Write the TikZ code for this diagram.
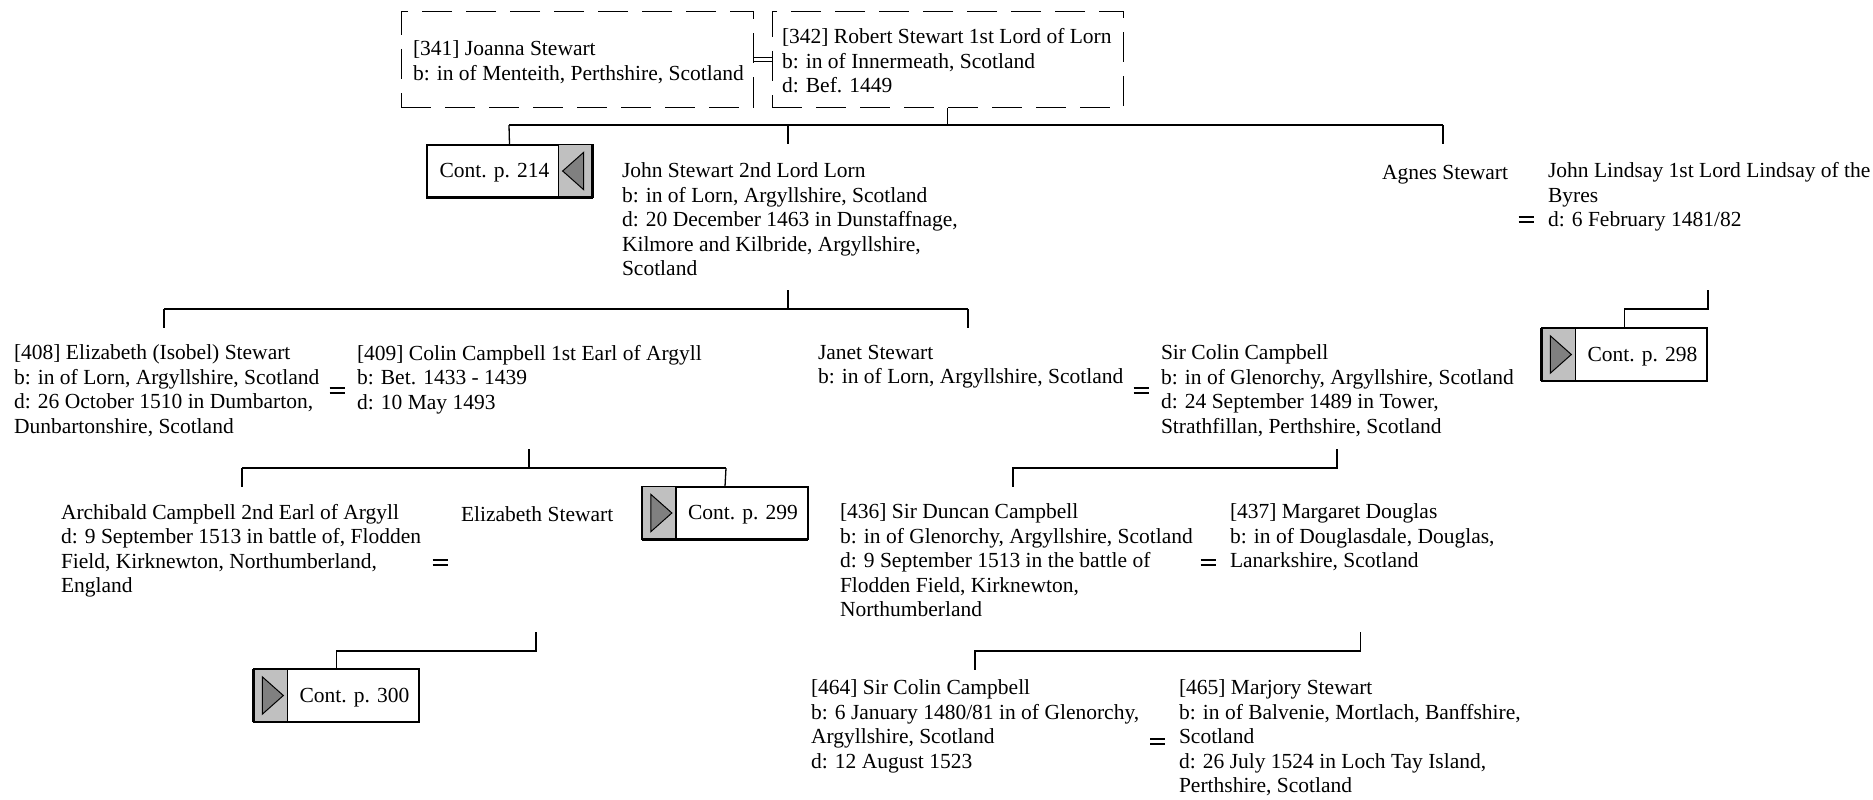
\documentclass[tikz,border=0pt]{standalone}
\usepackage{fontspec}
\setmainfont{Liberation Serif}
\definecolor{panelgray}{HTML}{C0C0C0}
\definecolor{trigray}{HTML}{808080}
\tikzset{
 person/.style={anchor=north west, inner sep=0pt, outer sep=0pt, align=left,
   font=\fontsize{21.5}{24.5}\selectfont, execute at begin node={\rule{0pt}{17pt}}},
 dbox/.style={draw, line width=1pt, dash pattern=on 30pt off 14pt, inner sep=0pt},
 link/.style={line width=1.3pt},
 contbox/.style={draw, fill=white, line width=1.3pt, minimum width=165pt, minimum height=52pt, inner sep=0pt},
 conttext/.style={inner sep=0pt, font=\fontsize{21.5}{24.5}\selectfont},
 marr/.style={line width=1.2pt},
}
\newcommand\person[4]{\node[person] (#1) at (#2,{#3-14}) {#4};}
\newcommand\marry[3]{\coordinate (#1) at (#2,{#3+2.5});
  \draw[marr] ([xshift=-7.5pt,yshift=-2.5pt]#1) -- ++(15pt,0pt)
              ([xshift=-7.5pt,yshift=2.5pt]#1) -- ++(15pt,0pt);}
\newcommand\contL[4]{%
 \node[contbox] (#1) at (#2,#3) {};
 \fill[panelgray] (#1.north west) rectangle ([xshift=34pt]#1.south west);
 \draw[line width=1.3pt] ([xshift=34pt]#1.north west) -- ([xshift=34pt]#1.south west);
 \filldraw[fill=trigray, line width=1pt] ([xshift=9pt,yshift=-8pt]#1.north west) -- ([xshift=30pt]#1.west) -- ([xshift=9pt,yshift=8pt]#1.south west) -- cycle;
 \draw[line width=1.3pt] (#1.north west) rectangle (#1.south east);
 \draw[line width=2.6pt] (#1.south west) -- (#1.south east);
 \draw[line width=2.6pt] (#1.south west) -- (#1.north west);
 \node[conttext] (#1t) at ([xshift=18pt,yshift=-2pt]#1.center) {#4};}
\newcommand\contR[4]{%
 \node[contbox] (#1) at (#2,#3) {};
 \fill[panelgray] (#1.north east) rectangle ([xshift=-34pt]#1.south east);
 \draw[line width=1.3pt] ([xshift=-34pt]#1.north east) -- ([xshift=-34pt]#1.south east);
 \filldraw[fill=trigray, line width=1pt] ([xshift=-9pt,yshift=-8pt]#1.north east) -- ([xshift=-30pt]#1.east) -- ([xshift=-9pt,yshift=8pt]#1.south east) -- cycle;
 \draw[line width=1.3pt] (#1.north west) rectangle (#1.south east);
 \draw[line width=2.6pt] (#1.south west) -- (#1.south east);
 \draw[line width=2.6pt] (#1.south east) -- (#1.north east);
 \node[conttext] (#1t) at ([xshift=-15pt,yshift=-2pt]#1.center) {#4};}
\begin{document}
\begin{tikzpicture}[x=1pt,y=-1pt]
\useasboundingbox (0,0) rectangle (1873,800);
\fill[white] (0,0) rectangle (1873,800);

% top couple
\node[dbox, minimum width=352pt, minimum height=95pt] (b341) at (577,59.5) {};
\node[dbox, minimum width=351pt, minimum height=95pt] (b342) at (947.5,59.5) {};
\person{p341}{413}{54.8}{[341] Joanna Stewart\\b: in of Menteith, Perthshire, Scotland}
\person{p342}{782}{42.7}{[342] Robert Stewart 1st Lord of Lorn\\b: in of Innermeath, Scotland\\d: Bef. 1449}
\draw[marr] ([yshift=2pt]b341.east) -- ([yshift=2pt]b342.west)
            ([yshift=-2pt]b341.east) -- ([yshift=-2pt]b342.west);

% generation 2
\contR{c214}{509.5}{171}{Cont. p. 214}
\person{pjohn}{622}{176.6}{John Stewart 2nd Lord Lorn\\b: in of Lorn, Argyllshire, Scotland\\d: 20 December 1463 in Dunstaffnage,\\Kilmore and Kilbride, Argyllshire,\\Scotland}
\person{pagnes}{1382}{176.6}{Agnes Stewart}
\person{plindsay}{1548}{176.6}{John Lindsay 1st Lord Lindsay of the\\Byres\\d: 6 February 1481/82}
\marry{mlind}{1526}{217}
\coordinate (h1L) at (509,125);
\coordinate (h1M) at (788,125);
\coordinate (h1R) at (1443,125);
\coordinate (h1C) at (947.5,125);
\coordinate (johnTop) at (788,144);
\coordinate (agnesTop) at (1443,144);
\draw[link] (b342.south) -- (h1C);
\draw[link] (h1L) -- (h1R);
\draw[link] (h1L) -- (c214.north);
\draw[link] (h1M) -- (johnTop);
\draw[link] (h1R) -- (agnesTop);

% Lindsay continuation
\contL{c298}{1624.5}{354.5}{Cont. p. 298}
\coordinate (lindA) at (1708,290);
\coordinate (lindB) at (1708,309);
\draw[link] (lindA) -- (lindB) -| (c298.north);

% generation 3
\coordinate (jA) at (788,290);
\coordinate (jC) at (788,309);
\coordinate (jL) at (164,309);
\coordinate (jR) at (968,309);
\coordinate (elizTop) at (164,328);
\coordinate (janetTop) at (968,328);
\draw[link] (jA) -- (jC);
\draw[link] (jL) -- (jR);
\draw[link] (jL) -- (elizTop);
\draw[link] (jR) -- (janetTop);

\person{p408}{14}{359}{[408] Elizabeth (Isobel) Stewart\\b: in of Lorn, Argyllshire, Scotland\\d: 26 October 1510 in Dumbarton,\\Dunbartonshire, Scotland}
\marry{m408}{337}{388}
\person{p409}{357}{359}{[409] Colin Campbell 1st Earl of Argyll\\b: Bet. 1433 - 1439\\d: 10 May 1493}
\person{pjanet}{818}{359}{Janet Stewart\\b: in of Lorn, Argyllshire, Scotland}
\marry{mjanet}{1141}{388}
\person{psircolin}{1161}{359}{Sir Colin Campbell\\b: in of Glenorchy, Argyllshire, Scotland\\d: 24 September 1489 in Tower,\\Strathfillan, Perthshire, Scotland}

% generation 4 left
\coordinate (cA) at (529,449);
\coordinate (cC) at (529,468);
\coordinate (cL) at (242,468);
\coordinate (cR) at (726,468);
\coordinate (archTop) at (242,487);
\draw[link] (cA) -- (cC);
\draw[link] (cL) -- (cR);
\draw[link] (cL) -- (archTop);
\contL{c299}{725}{513}{Cont. p. 299}
\draw[link] (cR) -- (c299.north);
\person{parch}{61}{518}{Archibald Campbell 2nd Earl of Argyll\\d: 9 September 1513 in battle of, Flodden\\Field, Kirknewton, Northumberland,\\England}
\marry{march}{440}{560}
\person{pelizs}{461}{518}{Elizabeth Stewart}

\coordinate (aA) at (536,632);
\coordinate (aB) at (536,651);
\contL{c300}{336.5}{695.5}{Cont. p. 300}
\draw[link] (aA) -- (aB) -| (c300.north);

% generation 4 right
\coordinate (sA) at (1337,449);
\coordinate (sB) at (1337,468);
\coordinate (duncanTop) at (1013,487);
\draw[link] (sA) -- (sB) -| (duncanTop);
\person{p436}{840}{518}{[436] Sir Duncan Campbell\\b: in of Glenorchy, Argyllshire, Scotland\\d: 9 September 1513 in the battle of\\Flodden Field, Kirknewton,\\Northumberland}
\marry{m436}{1208}{560}
\person{p437}{1230}{518}{[437] Margaret Douglas\\b: in of Douglasdale, Douglas,\\Lanarkshire, Scotland}

% generation 5
\coordinate (dA) at (1360.5,632);
\coordinate (dB) at (1360.5,651);
\coordinate (colin2Top) at (975,670);
\draw[link] (dA) -- (dB) -| (colin2Top);
\person{p464}{811}{694}{[464] Sir Colin Campbell\\b: 6 January 1480/81 in of Glenorchy,\\Argyllshire, Scotland\\d: 12 August 1523}
\marry{m464}{1157.5}{739}
\person{p465}{1179}{694}{[465] Marjory Stewart\\b: in of Balvenie, Mortlach, Banffshire,\\Scotland\\d: 26 July 1524 in Loch Tay Island,\\Perthshire, Scotland}
\end{tikzpicture}
\end{document}
